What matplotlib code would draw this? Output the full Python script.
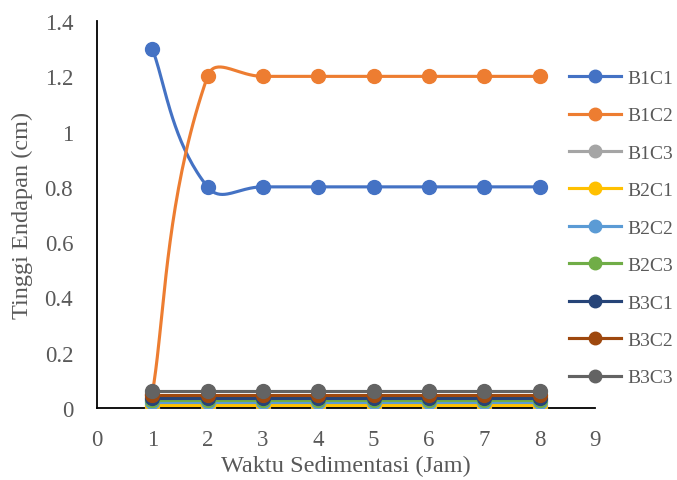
import matplotlib.pyplot as plt
import numpy as np

hours = [1, 2, 3, 4, 5, 6, 7, 8]
B1C1 = [1.3, 0.8, 0.8, 0.8, 0.8, 0.8, 0.8, 0.8]
B1C2 = [0.05, 1.2, 1.2, 1.2, 1.2, 1.2, 1.2, 1.2]
B1C3 = [0, 0, 0, 0, 0, 0, 0, 0]
B2C1 = [0.01, 0.01, 0.01, 0.01, 0.01, 0.01, 0.01, 0.01]
B2C2 = [0.02, 0.02, 0.02, 0.02, 0.02, 0.02, 0.02, 0.02]
B2C3 = [0.03, 0.03, 0.03, 0.03, 0.03, 0.03, 0.03, 0.03]
B3C1 = [0.035, 0.035, 0.035, 0.035, 0.035, 0.035, 0.035, 0.035]
B3C2 = [0.045, 0.045, 0.045, 0.045, 0.045, 0.045, 0.045, 0.045]
B3C3 = [0.06, 0.06, 0.06, 0.06, 0.06, 0.06, 0.06, 0.06]

names = ["B1C1", "B1C2", "B1C3", "B2C1", "B2C2", "B2C3", "B3C1", "B3C2", "B3C3"]
series = [B1C1, B1C2, B1C3, B2C1, B2C2, B2C3, B3C1, B3C2, B3C3]
colors = ["#4472C4", "#ED7D31", "#A5A5A5", "#FFC000", "#5B9BD5",
          "#70AD47", "#264478", "#9E480E", "#636363"]


def smooth(x, y, sx=55.3, sy=276.0, n=40):
    # smoothed line like the spreadsheet one: bezier with chord-weighted tangents
    p = np.column_stack([np.asarray(x, float) * sx, np.asarray(y, float) * sy])
    m = len(p)
    tang = []
    for i in range(m):
        a = p[max(i - 1, 0)]
        b = p[min(i + 1, m - 1)]
        tang.append(b - a)
    xs, ys = [], []
    k = 2.2
    for i in range(m - 1):
        p1, p2 = p[i], p[i + 1]
        seg = np.linalg.norm(p2 - p1)
        l1 = seg + (np.linalg.norm(p1 - p[i - 1]) if i > 0 else seg)
        l2 = seg + (np.linalg.norm(p[i + 2] - p2) if i + 2 < m else seg)
        c1 = p1 + tang[i] * seg / l1 / k
        c2 = p2 - tang[i + 1] * seg / l2 / k
        t = np.linspace(0, 1, n)[:, None]
        pts = (1 - t) ** 3 * p1 + 3 * (1 - t) ** 2 * t * c1 + 3 * (1 - t) * t ** 2 * c2 + t ** 3 * p2
        xs.extend(pts[:, 0] / sx)
        ys.extend(pts[:, 1] / sy)
    return xs, ys


plt.rcParams['font.family'] = 'Liberation Serif'
fig = plt.figure(figsize=(6.77, 4.81), dpi=100)
ax = fig.add_axes([0.143, 0.150, 0.736, 0.804])

handles = []
for name, vals, c in zip(names, series, colors):
    sx, sy = smooth(hours, vals)
    ax.plot(sx, sy, color=c, lw=2.25, zorder=2, solid_capstyle='round')
    ax.plot(hours, vals, 'o', color=c, ms=10, zorder=3)
    h, = ax.plot([], [], color=c, lw=2.25, marker='o', ms=9)
    handles.append(h)

ax.set_xlim(0, 9)
ax.set_ylim(0, 1.4)
ax.set_xticks(range(0, 10))
ax.set_yticks([0, 0.2, 0.4, 0.6, 0.8, 1, 1.2, 1.4])
ax.set_yticklabels(["0", "0.2", "0.4", "0.6", "0.8", "1", "1.2", "1.4"])
ax.tick_params(length=0, labelsize=16.5, colors='#595959')
ax.tick_params(axis='x', pad=15)
ax.tick_params(axis='y', pad=17)
for s in ['top', 'right']:
    ax.spines[s].set_visible(False)
for s in ['left', 'bottom']:
    ax.spines[s].set_color('black')
    ax.spines[s].set_linewidth(1.3)
ax.set_xlabel("Waktu Sedimentasi (Jam)", fontsize=17.5, color='#595959', labelpad=4)
ax.set_ylabel("Tinggi Endapan (cm)", fontsize=17.5, color='#595959', labelpad=8)

fig.legend(handles, names, loc='upper left', bbox_to_anchor=(0.826, 0.874),
           frameon=False, fontsize=14, labelcolor='#595959', borderpad=0,
           handlelength=2.7, labelspacing=1.02, handletextpad=0.3)

fig.savefig("out.png")
